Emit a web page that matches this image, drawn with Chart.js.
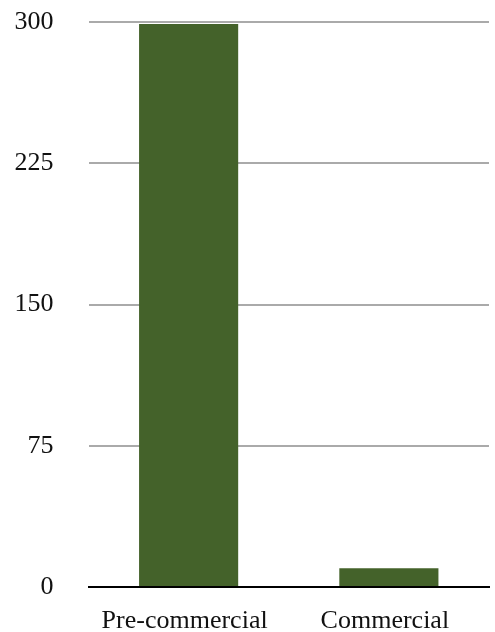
<!DOCTYPE html>
<html>
<head>
<meta charset="utf-8">
<script src="https://cdn.jsdelivr.net/npm/chart.js@4"></script>
<style>
  html, body { margin: 0; padding: 0; background: #fff; }
  #wrap { width: 495px; height: 632px; }
</style>
</head>
<body>
<div id="wrap"><canvas id="stageChart"></canvas></div>
<script>
// data
const categories = ['Pre-commercial', 'Commercial'];
const counts = [299, 10];
const yTicks = [0, 75, 150, 225, 300];

const ctx = document.getElementById('stageChart').getContext('2d');

new Chart(ctx, {
    type: 'bar',
    data: {
        labels: categories,
        datasets: [{
            data: counts,
            backgroundColor: '#44622a',
            categoryPercentage: 1,
            barPercentage: 0.495
        }]
    },
    options: {
        responsive: true,
        maintainAspectRatio: false,
        animation: false,
        layout: { padding: { top: 22, right: 6, left: 0, bottom: 0 } },
        plugins: {
            legend: { display: false },
            tooltip: { enabled: false }
        },
        scales: {
            x: {
                grid: { display: false },
                border: { color: '#000', width: 2 },
                ticks: {
                    color: '#111',
                    padding: 11,
                    labelOffset: -4,
                    font: { family: 'Liberation Serif', size: 26 }
                },
                afterFit: s => { s.height = 45; }
            },
            y: {
                min: 0,
                max: 300,
                afterBuildTicks: s => { s.ticks = yTicks.map(v => ({ value: v })); },
                // tick marks hidden, their length gives the gap to the labels
                grid: { color: '#aaaaaa', lineWidth: 2, drawTicks: true, tickLength: 35, tickColor: 'rgba(0,0,0,0)' },
                border: { display: false },
                ticks: {
                    color: '#111',
                    padding: 0,
                    font: { family: 'Liberation Serif', size: 26 }
                },
                afterFit: s => { s.width = 88.5; }
            }
        }
    }
});
</script>
</body>
</html>
